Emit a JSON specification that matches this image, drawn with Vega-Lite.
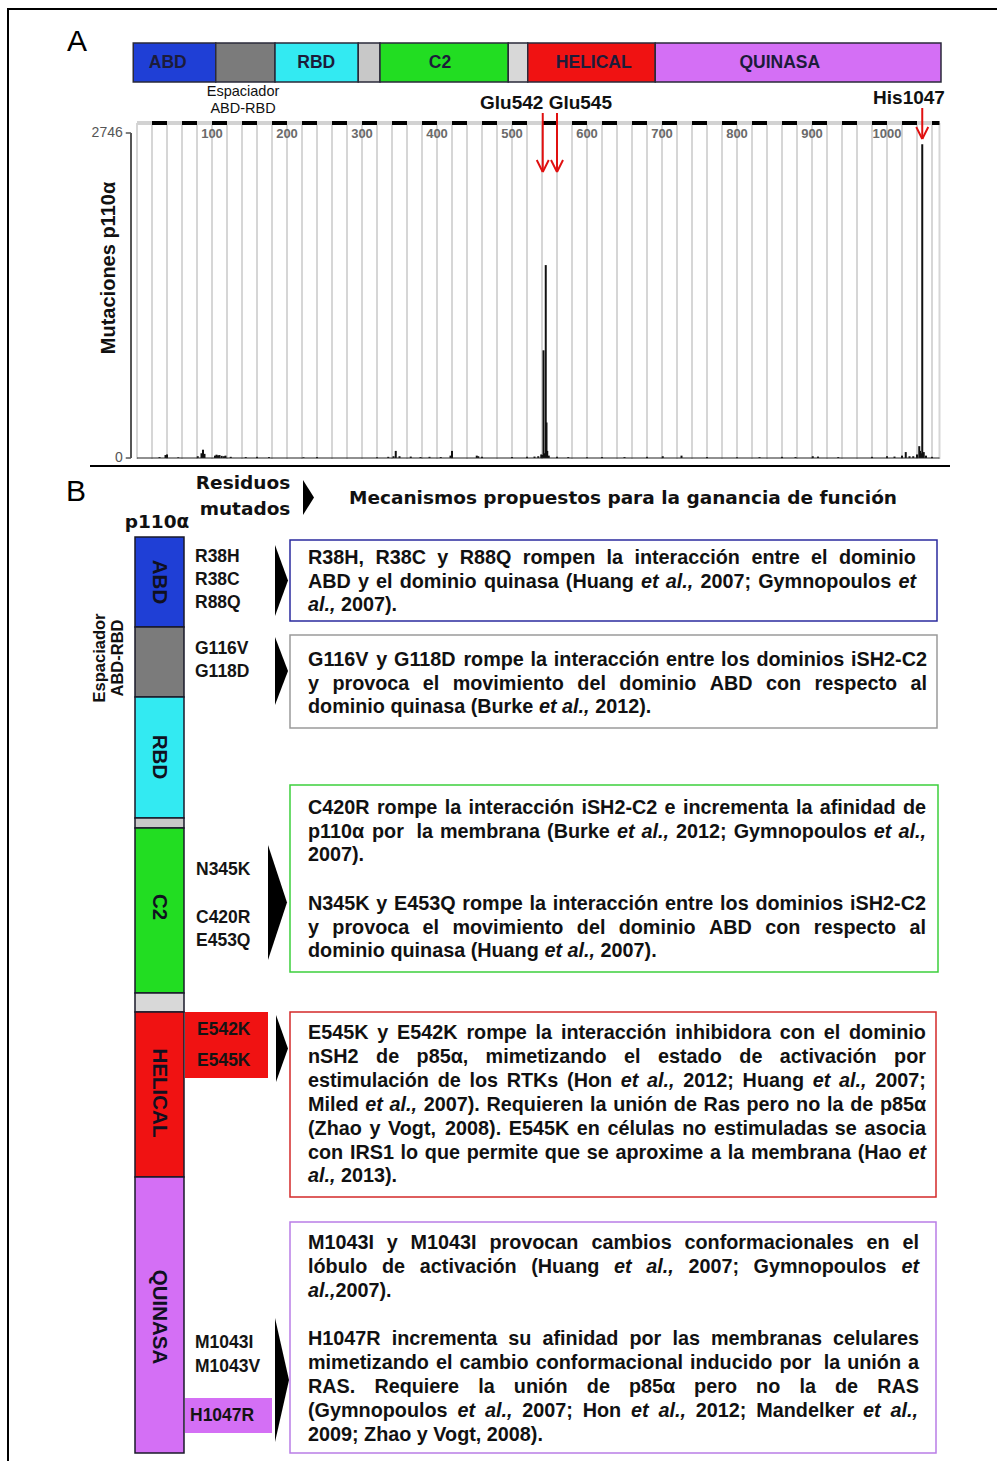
{
  "$schema": "https://vega.github.io/schema/vega-lite/v6.json",
  "width": 997,
  "height": 1461,
  "autosize": {"type": "none"},
  "padding": 0,
  "background": "white",
  "config": {"view": {"stroke": null}},
  "datasets": {
    "domains": [
      {"name": "ABD", "start": -5, "end": 105, "mid": 41, "label": "ABD"},
      {"name": "Espaciador", "start": 105, "end": 184, "mid": 144, "label": ""},
      {"name": "RBD", "start": 184, "end": 295, "mid": 239, "label": "RBD"},
      {"name": "gap1", "start": 295, "end": 324, "mid": 309, "label": ""},
      {"name": "C2", "start": 324, "end": 495, "mid": 404, "label": "C2"},
      {"name": "gap2", "start": 495, "end": 521, "mid": 508, "label": ""},
      {"name": "HELICAL", "start": 521, "end": 691, "mid": 609, "label": "HELICAL"},
      {"name": "QUINASA", "start": 691, "end": 1072, "mid": 857, "label": "QUINASA"}
    ],
    "grid": [
      {"g": 0}, {"g": 20}, {"g": 40}, {"g": 60}, {"g": 80}, {"g": 100}, {"g": 120}, {"g": 140}, {"g": 160}, {"g": 180},
      {"g": 200}, {"g": 220}, {"g": 240}, {"g": 260}, {"g": 280}, {"g": 300}, {"g": 320}, {"g": 340}, {"g": 360}, {"g": 380},
      {"g": 400}, {"g": 420}, {"g": 440}, {"g": 460}, {"g": 480}, {"g": 500}, {"g": 520}, {"g": 540}, {"g": 560}, {"g": 580},
      {"g": 600}, {"g": 620}, {"g": 640}, {"g": 660}, {"g": 680}, {"g": 700}, {"g": 720}, {"g": 740}, {"g": 760}, {"g": 780},
      {"g": 800}, {"g": 820}, {"g": 840}, {"g": 860}, {"g": 880}, {"g": 900}, {"g": 920}, {"g": 940}, {"g": 960}, {"g": 980},
      {"g": 1000}, {"g": 1020}, {"g": 1040}, {"g": 1060}, {"g": 1070}
    ],
    "ticks": [
      {"t": 100}, {"t": 200}, {"t": 300}, {"t": 400}, {"t": 500}, {"t": 600}, {"t": 700}, {"t": 800}, {"t": 900}, {"t": 1000}
    ],
    "arrows": [
      {"x1": 541, "y1": 113, "x2": 541, "y2": 172},
      {"x1": 533, "y1": 160, "x2": 541, "y2": 172},
      {"x1": 549, "y1": 160, "x2": 541, "y2": 172},
      {"x1": 560, "y1": 113, "x2": 560, "y2": 172},
      {"x1": 552, "y1": 160, "x2": 560, "y2": 172},
      {"x1": 568, "y1": 160, "x2": 560, "y2": 172},
      {"x1": 1047, "y1": 108, "x2": 1047, "y2": 139},
      {"x1": 1039, "y1": 127, "x2": 1047, "y2": 139},
      {"x1": 1055, "y1": 127, "x2": 1047, "y2": 139}
    ],
    "mut": [
      {"res": 30, "n": 8}, {"res": 38, "n": 25}, {"res": 40, "n": 30}, {"res": 55, "n": 6}, {"res": 81, "n": 15}, {"res": 86, "n": 40},
      {"res": 88, "n": 70}, {"res": 90, "n": 35}, {"res": 104, "n": 20}, {"res": 106, "n": 28}, {"res": 108, "n": 22},
      {"res": 110, "n": 25}, {"res": 113, "n": 18}, {"res": 116, "n": 15}, {"res": 118, "n": 20}, {"res": 125, "n": 10},
      {"res": 145, "n": 8}, {"res": 160, "n": 10}, {"res": 176, "n": 8}, {"res": 222, "n": 6}, {"res": 240, "n": 8},
      {"res": 320, "n": 6}, {"res": 335, "n": 10}, {"res": 342, "n": 15}, {"res": 345, "n": 60}, {"res": 350, "n": 15},
      {"res": 365, "n": 12}, {"res": 378, "n": 8}, {"res": 390, "n": 10}, {"res": 405, "n": 8}, {"res": 418, "n": 20},
      {"res": 420, "n": 60}, {"res": 453, "n": 20}, {"res": 455, "n": 15}, {"res": 460, "n": 10}, {"res": 500, "n": 8},
      {"res": 520, "n": 10}, {"res": 530, "n": 12}, {"res": 535, "n": 15}, {"res": 539, "n": 30}, {"res": 540, "n": 25},
      {"res": 542, "n": 910}, {"res": 543, "n": 40}, {"res": 545, "n": 1630}, {"res": 546, "n": 300}, {"res": 547, "n": 60},
      {"res": 549, "n": 20}, {"res": 560, "n": 10}, {"res": 575, "n": 8}, {"res": 600, "n": 6}, {"res": 620, "n": 8},
      {"res": 650, "n": 8}, {"res": 680, "n": 10}, {"res": 701, "n": 15}, {"res": 726, "n": 20}, {"res": 760, "n": 8},
      {"res": 800, "n": 6}, {"res": 830, "n": 8}, {"res": 860, "n": 10}, {"res": 878, "n": 8}, {"res": 901, "n": 15},
      {"res": 908, "n": 12}, {"res": 935, "n": 8}, {"res": 980, "n": 10}, {"res": 1000, "n": 15}, {"res": 1010, "n": 12},
      {"res": 1020, "n": 20}, {"res": 1025, "n": 50}, {"res": 1030, "n": 15}, {"res": 1035, "n": 15}, {"res": 1040, "n": 30},
      {"res": 1043, "n": 100}, {"res": 1044, "n": 60}, {"res": 1046, "n": 40}, {"res": 1047, "n": 2650}, {"res": 1048, "n": 30},
      {"res": 1049, "n": 50}, {"res": 1052, "n": 20}, {"res": 1060, "n": 10}
    ],
    "yticks": [{"v": 0, "label": "0"}, {"v": 2746, "label": "2746"}],
    "bseg": [
      {"name": "ABD", "y1": 537, "y2": 627},
      {"name": "Espaciador", "y1": 627, "y2": 697},
      {"name": "RBD", "y1": 697, "y2": 818},
      {"name": "gap1", "y1": 818, "y2": 828},
      {"name": "C2", "y1": 828, "y2": 993},
      {"name": "gap2", "y1": 993, "y2": 1012},
      {"name": "HELICAL", "y1": 1012, "y2": 1177},
      {"name": "QUINASA", "y1": 1177, "y2": 1453}
    ],
    "blabels": [
      {"t": "ABD", "y": 582}, {"t": "RBD", "y": 757}, {"t": "C2", "y": 907}, {"t": "HELICAL", "y": 1093}, {"t": "QUINASA", "y": 1317}
    ],
    "mutboxes": [
      {"name": "HELICAL", "x1": 185, "x2": 268, "y1": 1012, "y2": 1078},
      {"name": "QUINASA", "x1": 185, "x2": 272, "y1": 1398, "y2": 1433}
    ],
    "mutlabels": [
      {"t": "R38H", "x": 195, "y": 557}, {"t": "R38C", "x": 195, "y": 580}, {"t": "R88Q", "x": 195, "y": 603},
      {"t": "G116V", "x": 195, "y": 649}, {"t": "G118D", "x": 195, "y": 672},
      {"t": "N345K", "x": 196, "y": 870}, {"t": "C420R", "x": 196, "y": 918}, {"t": "E453Q", "x": 196, "y": 941},
      {"t": "E542K", "x": 197, "y": 1030}, {"t": "E545K", "x": 197, "y": 1061},
      {"t": "M1043I", "x": 195, "y": 1343}, {"t": "M1043V", "x": 195, "y": 1367}, {"t": "H1047R", "x": 190, "y": 1416}
    ],
    "tri": [
      {"id": "h", "x": 303, "top": 480, "bot": 515}, {"id": "h", "x": 314, "top": 497.5, "bot": 497.5},
      {"id": "a", "x": 275, "top": 545, "bot": 616}, {"id": "a", "x": 288, "top": 580.5, "bot": 580.5},
      {"id": "g", "x": 275, "top": 637, "bot": 705}, {"id": "g", "x": 288, "top": 671, "bot": 671},
      {"id": "c", "x": 268, "top": 845, "bot": 960}, {"id": "c", "x": 287, "top": 902.5, "bot": 902.5},
      {"id": "e", "x": 276, "top": 1015, "bot": 1082}, {"id": "e", "x": 288, "top": 1048.5, "bot": 1048.5},
      {"id": "k", "x": 275, "top": 1318, "bot": 1442}, {"id": "k", "x": 289, "top": 1380, "bot": 1380}
    ],
    "boxes": [
      {"k": "ABD", "x1": 290, "x2": 937, "y1": 540, "y2": 621},
      {"k": "Espaciador", "x1": 290, "x2": 937, "y1": 635, "y2": 728},
      {"k": "C2", "x1": 290, "x2": 938, "y1": 785, "y2": 972},
      {"k": "HELICAL", "x1": 290, "x2": 936, "y1": 1012, "y2": 1197},
      {"k": "QUINASA", "x1": 290, "x2": 936, "y1": 1222, "y2": 1453}
    ],
    "body": [
      {"t": "R38H,", "x": 308, "y": 558}, {"t": "R38C", "x": 375.4, "y": 558}, {"t": "y", "x": 437.3, "y": 558}, {"t": "R88Q", "x": 459.7, "y": 558},
      {"t": "rompen", "x": 522.7, "y": 558}, {"t": "la", "x": 606.6, "y": 558}, {"t": "interacción", "x": 634.4, "y": 558}, {"t": "entre", "x": 751.4, "y": 558},
      {"t": "el", "x": 811.1, "y": 558}, {"t": "dominio", "x": 838.9, "y": 558},
      {"t": "ABD", "x": 308, "y": 582}, {"t": "y", "x": 358.0, "y": 582}, {"t": "el", "x": 376.1, "y": 582}, {"t": "dominio", "x": 399.7, "y": 582},
      {"t": "quinasa", "x": 483.9, "y": 582}, {"t": "(Huang", "x": 565.8, "y": 582}, {"t": "et", "x": 641.1, "y": 582, "i": 1}, {"t": "al.,", "x": 665.8, "y": 582, "i": 1},
      {"t": "2007;", "x": 700.4, "y": 582}, {"t": "Gymnopoulos", "x": 758.2, "y": 582}, {"t": "et", "x": 898.4, "y": 582, "i": 1},
      {"t": "al.,", "x": 308, "y": 605, "i": 1}, {"t": "2007).", "x": 341.0, "y": 605},
      {"t": "G116V", "x": 308, "y": 660}, {"t": "y", "x": 376.3, "y": 660}, {"t": "G118D", "x": 394.0, "y": 660}, {"t": "rompe", "x": 463.4, "y": 660},
      {"t": "la", "x": 530.6, "y": 660}, {"t": "interacción", "x": 553.8, "y": 660}, {"t": "entre", "x": 666.1, "y": 660}, {"t": "los", "x": 721.1, "y": 660},
      {"t": "dominios", "x": 756.4, "y": 660}, {"t": "iSH2-C2", "x": 851.1, "y": 660},
      {"t": "y", "x": 308, "y": 684}, {"t": "provoca", "x": 332.4, "y": 684}, {"t": "el", "x": 422.8, "y": 684}, {"t": "movimiento", "x": 452.7, "y": 684},
      {"t": "del", "x": 577.3, "y": 684}, {"t": "dominio", "x": 619.3, "y": 684}, {"t": "ABD", "x": 709.7, "y": 684}, {"t": "con", "x": 766.0, "y": 684},
      {"t": "respecto", "x": 814.6, "y": 684}, {"t": "al", "x": 910.5, "y": 684},
      {"t": "dominio quinasa (Burke", "x": 308, "y": 707}, {"t": "et al.,", "x": 539.0, "y": 707, "i": 1}, {"t": "2012).", "x": 595.2, "y": 707},
      {"t": "C420R", "x": 308, "y": 808}, {"t": "rompe", "x": 376.9, "y": 808}, {"t": "la", "x": 444.7, "y": 808}, {"t": "interacción", "x": 468.5, "y": 808},
      {"t": "iSH2-C2", "x": 581.4, "y": 808}, {"t": "e", "x": 664.6, "y": 808}, {"t": "incrementa", "x": 682.9, "y": 808}, {"t": "la", "x": 795.9, "y": 808},
      {"t": "afinidad", "x": 819.7, "y": 808}, {"t": "de", "x": 902.9, "y": 808},
      {"t": "p110α", "x": 308, "y": 832}, {"t": "por", "x": 372.0, "y": 832}, {"t": "la", "x": 416.4, "y": 832}, {"t": "membrana", "x": 440.0, "y": 832},
      {"t": "(Burke", "x": 547.1, "y": 832}, {"t": "et", "x": 616.9, "y": 832, "i": 1}, {"t": "al.,", "x": 641.5, "y": 832, "i": 1}, {"t": "2012;", "x": 676.0, "y": 832},
      {"t": "Gymnopoulos", "x": 733.7, "y": 832}, {"t": "et", "x": 873.8, "y": 832, "i": 1}, {"t": "al.,", "x": 898.4, "y": 832, "i": 1},
      {"t": "2007).", "x": 308, "y": 855},
      {"t": "N345K", "x": 308, "y": 904}, {"t": "y", "x": 376.3, "y": 904}, {"t": "E453Q", "x": 394.0, "y": 904}, {"t": "rompe", "x": 462.3, "y": 904},
      {"t": "la", "x": 529.5, "y": 904}, {"t": "interacción", "x": 552.7, "y": 904}, {"t": "entre", "x": 665.0, "y": 904}, {"t": "los", "x": 720.1, "y": 904},
      {"t": "dominios", "x": 755.4, "y": 904}, {"t": "iSH2-C2", "x": 850.1, "y": 904},
      {"t": "y", "x": 308, "y": 928}, {"t": "provoca", "x": 332.3, "y": 928}, {"t": "el", "x": 422.6, "y": 928}, {"t": "movimiento", "x": 452.4, "y": 928},
      {"t": "del", "x": 576.8, "y": 928}, {"t": "dominio", "x": 618.7, "y": 928}, {"t": "ABD", "x": 709.0, "y": 928}, {"t": "con", "x": 765.2, "y": 928},
      {"t": "respecto", "x": 813.7, "y": 928}, {"t": "al", "x": 909.5, "y": 928},
      {"t": "dominio quinasa (Huang", "x": 308, "y": 951}, {"t": "et al.,", "x": 544.5, "y": 951, "i": 1}, {"t": "2007).", "x": 600.6, "y": 951},
      {"t": "E545K", "x": 308, "y": 1033}, {"t": "y", "x": 377.3, "y": 1033}, {"t": "E542K", "x": 397.1, "y": 1033}, {"t": "rompe", "x": 466.4, "y": 1033},
      {"t": "la", "x": 535.6, "y": 1033}, {"t": "interacción", "x": 560.9, "y": 1033}, {"t": "inhibidora", "x": 675.3, "y": 1033}, {"t": "con", "x": 779.8, "y": 1033},
      {"t": "el", "x": 823.7, "y": 1033}, {"t": "dominio", "x": 849.0, "y": 1033},
      {"t": "nSH2", "x": 308, "y": 1057}, {"t": "de", "x": 376.1, "y": 1057}, {"t": "p85α,", "x": 416.6, "y": 1057}, {"t": "mimetizando", "x": 485.6, "y": 1057},
      {"t": "el", "x": 624.0, "y": 1057}, {"t": "estado", "x": 658.0, "y": 1057}, {"t": "de", "x": 739.3, "y": 1057}, {"t": "activación", "x": 779.8, "y": 1057},
      {"t": "por", "x": 894.1, "y": 1057},
      {"t": "estimulación", "x": 308, "y": 1081}, {"t": "de", "x": 437.7, "y": 1081}, {"t": "los", "x": 469.5, "y": 1081}, {"t": "RTKs", "x": 506.7, "y": 1081},
      {"t": "(Hon", "x": 567.1, "y": 1081}, {"t": "et", "x": 620.8, "y": 1081, "i": 1}, {"t": "al.,", "x": 647.1, "y": 1081, "i": 1}, {"t": "2012;", "x": 683.3, "y": 1081},
      {"t": "Huang", "x": 742.6, "y": 1081}, {"t": "et", "x": 812.8, "y": 1081, "i": 1}, {"t": "al.,", "x": 839.1, "y": 1081, "i": 1}, {"t": "2007;", "x": 875.3, "y": 1081},
      {"t": "Miled", "x": 308, "y": 1105}, {"t": "et", "x": 365.3, "y": 1105, "i": 1}, {"t": "al.,", "x": 389.6, "y": 1105, "i": 1}, {"t": "2007).", "x": 423.7, "y": 1105},
      {"t": "Requieren", "x": 486.5, "y": 1105}, {"t": "la", "x": 590.0, "y": 1105}, {"t": "unión", "x": 613.2, "y": 1105}, {"t": "de", "x": 673.8, "y": 1105},
      {"t": "Ras", "x": 703.6, "y": 1105}, {"t": "pero", "x": 746.5, "y": 1105}, {"t": "no", "x": 796.1, "y": 1105}, {"t": "la", "x": 827.0, "y": 1105},
      {"t": "de", "x": 850.2, "y": 1105}, {"t": "p85α", "x": 880.0, "y": 1105},
      {"t": "(Zhao", "x": 308, "y": 1129}, {"t": "y", "x": 369.5, "y": 1129}, {"t": "Vogt,", "x": 388.0, "y": 1129}, {"t": "2008).", "x": 445.1, "y": 1129},
      {"t": "E545K", "x": 508.7, "y": 1129}, {"t": "en", "x": 576.8, "y": 1129}, {"t": "células", "x": 607.5, "y": 1129}, {"t": "no", "x": 682.2, "y": 1129},
      {"t": "estimuladas", "x": 713.9, "y": 1129}, {"t": "se", "x": 834.8, "y": 1129}, {"t": "asocia", "x": 864.4, "y": 1129},
      {"t": "con", "x": 308, "y": 1153}, {"t": "IRS1", "x": 349.9, "y": 1153}, {"t": "lo", "x": 400.5, "y": 1153}, {"t": "que", "x": 424.8, "y": 1153},
      {"t": "permite", "x": 466.7, "y": 1153}, {"t": "que", "x": 544.8, "y": 1153}, {"t": "se", "x": 586.7, "y": 1153}, {"t": "aproxime", "x": 615.4, "y": 1153},
      {"t": "a", "x": 710.1, "y": 1153}, {"t": "la", "x": 727.7, "y": 1153}, {"t": "membrana", "x": 750.9, "y": 1153}, {"t": "(Hao", "x": 857.7, "y": 1153},
      {"t": "et", "x": 908.4, "y": 1153, "i": 1},
      {"t": "al.,", "x": 308, "y": 1176, "i": 1}, {"t": "2013).", "x": 341.0, "y": 1176},
      {"t": "M1043I", "x": 308, "y": 1243}, {"t": "y", "x": 386.8, "y": 1243}, {"t": "M1043I", "x": 410.6, "y": 1243}, {"t": "provocan", "x": 489.4, "y": 1243},
      {"t": "cambios", "x": 591.4, "y": 1243}, {"t": "conformacionales", "x": 684.5, "y": 1243}, {"t": "en", "x": 866.6, "y": 1243}, {"t": "el", "x": 902.5, "y": 1243},
      {"t": "lóbulo", "x": 308, "y": 1267}, {"t": "de", "x": 382.0, "y": 1267}, {"t": "activación", "x": 419.8, "y": 1267}, {"t": "(Huang", "x": 531.2, "y": 1267},
      {"t": "et", "x": 614.0, "y": 1267, "i": 1}, {"t": "al.,", "x": 646.2, "y": 1267, "i": 1}, {"t": "2007;", "x": 688.4, "y": 1267}, {"t": "Gymnopoulos", "x": 753.6, "y": 1267},
      {"t": "et", "x": 901.4, "y": 1267, "i": 1},
      {"t": "al.,", "x": 308, "y": 1291, "i": 1}, {"t": "2007).", "x": 335.5, "y": 1291},
      {"t": "H1047R", "x": 308, "y": 1339}, {"t": "incrementa", "x": 391.7, "y": 1339}, {"t": "su", "x": 508.3, "y": 1339}, {"t": "afinidad", "x": 542.5, "y": 1339},
      {"t": "por", "x": 629.4, "y": 1339}, {"t": "las", "x": 672.4, "y": 1339}, {"t": "membranas", "x": 710.9, "y": 1339}, {"t": "celulares", "x": 833.1, "y": 1339},
      {"t": "mimetizando", "x": 308, "y": 1363}, {"t": "el", "x": 436.0, "y": 1363}, {"t": "cambio", "x": 459.4, "y": 1363}, {"t": "conformacional", "x": 535.7, "y": 1363},
      {"t": "inducido", "x": 689.9, "y": 1363}, {"t": "por", "x": 779.4, "y": 1363}, {"t": "la", "x": 823.7, "y": 1363}, {"t": "unión", "x": 847.2, "y": 1363},
      {"t": "a", "x": 908.0, "y": 1363},
      {"t": "RAS.", "x": 308, "y": 1387}, {"t": "Requiere", "x": 374.4, "y": 1387}, {"t": "la", "x": 478.2, "y": 1387}, {"t": "unión", "x": 513.8, "y": 1387},
      {"t": "de", "x": 586.8, "y": 1387}, {"t": "p85α", "x": 629.0, "y": 1387}, {"t": "pero", "x": 694.1, "y": 1387}, {"t": "no", "x": 756.1, "y": 1387},
      {"t": "la", "x": 799.4, "y": 1387}, {"t": "de", "x": 835.0, "y": 1387}, {"t": "RAS", "x": 877.2, "y": 1387},
      {"t": "(Gymnopoulos", "x": 308, "y": 1411}, {"t": "et", "x": 457.5, "y": 1411, "i": 1}, {"t": "al.,", "x": 485.0, "y": 1411, "i": 1}, {"t": "2007;", "x": 522.3, "y": 1411},
      {"t": "Hon", "x": 582.7, "y": 1411}, {"t": "et", "x": 631.1, "y": 1411, "i": 1}, {"t": "al.,", "x": 658.5, "y": 1411, "i": 1}, {"t": "2012;", "x": 695.8, "y": 1411},
      {"t": "Mandelker", "x": 756.3, "y": 1411}, {"t": "et", "x": 863.0, "y": 1411, "i": 1}, {"t": "al.,", "x": 890.4, "y": 1411, "i": 1},
      {"t": "2009; Zhao y Vogt, 2008).", "x": 308, "y": 1435}
    ],
    "heads": [
      {"t": "Residuos", "x": 243, "y": 483},
      {"t": "mutados", "x": 245, "y": 509},
      {"t": "p110α", "x": 157, "y": 522},
      {"t": "Mecanismos propuestos para la ganancia de función", "x": 623, "y": 498}
    ],
    "panels": [{"t": "A", "x": 77, "y": 42}, {"t": "B", "x": 76, "y": 492}],
    "smalltop": [{"t": "Espaciador", "x": 243, "y": 92}, {"t": "ABD-RBD", "x": 243, "y": 109}],
    "residues": [{"t": "Glu542 Glu545", "x": 546, "y": 103}, {"t": "His1047", "x": 909, "y": 98}],
    "vtitle": [{"t": "Mutaciones p110α", "x": 109, "y": 268}],
    "vspacer": [{"t": "Espaciador", "x": 100, "y": 658}, {"t": "ABD-RBD", "x": 118, "y": 658}]
  },
  "resolve": {"scale": {"x": "independent", "y": "independent"}},
  "layer": [
    {
      "layer": [
        {
          "data": {"name": "grid"},
          "mark": {"type": "rule", "color": "#d6d6d6", "strokeWidth": 2},
          "encoding": {
            "x": {"field": "g", "type": "quantitative", "scale": {"domain": [-182.667, 1146.667], "nice": false, "zero": false}, "axis": null},
            "y": {"datum": 123, "type": "quantitative", "scale": {"domain": [0, 1461], "nice": false, "zero": false, "reverse": true}, "axis": null},
            "y2": {"datum": 459}
          }
        },
        {
          "data": {"values": [{}]},
          "mark": {"type": "rule", "color": "#d2d2d2", "strokeWidth": 4},
          "encoding": {
            "x": {"datum": 0, "type": "quantitative", "scale": {"domain": [-182.667, 1146.667], "nice": false, "zero": false}, "axis": null},
            "x2": {"datum": 1070},
            "y": {"datum": 123, "type": "quantitative", "scale": {"domain": [0, 1461], "nice": false, "zero": false, "reverse": true}, "axis": null}
          }
        },
        {
          "data": {"values": [{}]},
          "mark": {"type": "rule", "color": "#000000", "strokeWidth": 4, "strokeDash": [15, 15], "strokeDashOffset": 15},
          "encoding": {
            "x": {"datum": 0, "type": "quantitative", "scale": {"domain": [-182.667, 1146.667], "nice": false, "zero": false}, "axis": null},
            "x2": {"datum": 1070},
            "y": {"datum": 123, "type": "quantitative", "scale": {"domain": [0, 1461], "nice": false, "zero": false, "reverse": true}, "axis": null}
          }
        },
        {
          "data": {"name": "ticks"},
          "mark": {"type": "text", "font": "Liberation Sans", "fontSize": 13, "fontWeight": "bold", "color": "#6a6a6a", "baseline": "middle"},
          "encoding": {
            "x": {"field": "t", "type": "quantitative", "scale": {"domain": [-182.667, 1146.667], "nice": false, "zero": false}, "axis": null},
            "y": {"datum": 134, "type": "quantitative", "scale": {"domain": [0, 1461], "nice": false, "zero": false, "reverse": true}, "axis": null},
            "text": {"field": "t", "type": "quantitative"}
          }
        },
        {
          "data": {"name": "domains"},
          "mark": {"type": "rect", "stroke": "#2a2a3a", "strokeWidth": 1.5},
          "encoding": {
            "x": {"field": "start", "type": "quantitative", "scale": {"domain": [-182.667, 1146.667], "nice": false, "zero": false}, "axis": null},
            "x2": {"field": "end"},
            "y": {"datum": 43, "type": "quantitative", "scale": {"domain": [0, 1461], "nice": false, "zero": false, "reverse": true}, "axis": null},
            "y2": {"datum": 82},
            "fill": {"field": "name", "type": "nominal", "legend": null, "scale": {"domain": ["ABD", "Espaciador", "RBD", "gap1", "C2", "gap2", "HELICAL", "QUINASA"], "range": ["#1f3fd6", "#7b7b7b", "#33eaf2", "#c8c8c8", "#22dd22", "#d8d8d8", "#f01212", "#d46ff5"]}}
          }
        },
        {
          "data": {"name": "domains"},
          "mark": {"type": "text", "font": "Liberation Sans", "fontSize": 17.5, "fontWeight": "bold", "color": "#1c1c3a", "baseline": "middle"},
          "encoding": {
            "x": {"field": "mid", "type": "quantitative", "scale": {"domain": [-182.667, 1146.667], "nice": false, "zero": false}, "axis": null},
            "y": {"datum": 63, "type": "quantitative", "scale": {"domain": [0, 1461], "nice": false, "zero": false, "reverse": true}, "axis": null},
            "text": {"field": "label", "type": "nominal"}
          }
        },
        {
          "data": {"name": "arrows"},
          "mark": {"type": "rule", "color": "#e01010", "strokeWidth": 2},
          "encoding": {
            "x": {"field": "x1", "type": "quantitative", "scale": {"domain": [-182.667, 1146.667], "nice": false, "zero": false}, "axis": null},
            "x2": {"field": "x2"},
            "y": {"field": "y1", "type": "quantitative", "scale": {"domain": [0, 1461], "nice": false, "zero": false, "reverse": true}, "axis": null},
            "y2": {"field": "y2"}
          }
        }
      ]
    },
    {
      "layer": [
        {
          "data": {"name": "mut"},
          "mark": {"type": "rule", "color": "#111111", "strokeWidth": 2},
          "encoding": {
            "x": {"field": "res", "type": "quantitative", "scale": {"domain": [-182.667, 1146.667], "nice": false, "zero": false}, "axis": null},
            "y": {"field": "n", "type": "quantitative", "scale": {"domain": [-8474.6, 3869.8], "nice": false, "zero": false}, "axis": null},
            "y2": {"datum": 0}
          }
        },
        {
          "data": {"values": [{}]},
          "mark": {"type": "rule", "color": "#222222", "strokeWidth": 1.2},
          "encoding": {
            "x": {"datum": 0, "type": "quantitative", "scale": {"domain": [-182.667, 1146.667], "nice": false, "zero": false}, "axis": null},
            "x2": {"datum": 1070},
            "y": {"datum": 0, "type": "quantitative", "scale": {"domain": [-8474.6, 3869.8], "nice": false, "zero": false}, "axis": null}
          }
        },
        {
          "data": {"values": [{}]},
          "mark": {"type": "rule", "color": "#555555", "strokeWidth": 2},
          "encoding": {
            "x": {"datum": -8, "type": "quantitative", "scale": {"domain": [-182.667, 1146.667], "nice": false, "zero": false}, "axis": null},
            "y": {"datum": 0, "type": "quantitative", "scale": {"domain": [-8474.6, 3869.8], "nice": false, "zero": false}, "axis": null},
            "y2": {"datum": 2746}
          }
        },
        {
          "data": {"name": "yticks"},
          "mark": {"type": "rule", "color": "#555555", "strokeWidth": 1.5},
          "encoding": {
            "x": {"datum": -15, "type": "quantitative", "scale": {"domain": [-182.667, 1146.667], "nice": false, "zero": false}, "axis": null},
            "x2": {"datum": -8},
            "y": {"field": "v", "type": "quantitative", "scale": {"domain": [-8474.6, 3869.8], "nice": false, "zero": false}, "axis": null}
          }
        },
        {
          "data": {"name": "yticks"},
          "mark": {"type": "text", "font": "Liberation Sans", "fontSize": 14, "color": "#555555", "align": "right", "baseline": "middle", "dx": -3},
          "encoding": {
            "x": {"datum": -15, "type": "quantitative", "scale": {"domain": [-182.667, 1146.667], "nice": false, "zero": false}, "axis": null},
            "y": {"field": "v", "type": "quantitative", "scale": {"domain": [-8474.6, 3869.8], "nice": false, "zero": false}, "axis": null},
            "text": {"field": "label", "type": "nominal"}
          }
        }
      ]
    },
    {
      "layer": [
        {
          "data": {"values": [{}]},
          "mark": {"type": "rect", "fillOpacity": 0, "stroke": "#000000", "strokeWidth": 2},
          "encoding": {
            "x": {"datum": 8, "type": "quantitative", "scale": {"domain": [0, 997], "nice": false, "zero": false}, "axis": null},
            "x2": {"datum": 1010},
            "y": {"datum": 9, "type": "quantitative", "scale": {"domain": [0, 1461], "nice": false, "zero": false, "reverse": true}, "axis": null},
            "y2": {"datum": 1475}
          }
        },
        {
          "data": {"values": [{}]},
          "mark": {"type": "rule", "color": "#000000", "strokeWidth": 2},
          "encoding": {
            "x": {"datum": 90, "type": "quantitative", "scale": {"domain": [0, 997], "nice": false, "zero": false}, "axis": null},
            "x2": {"datum": 950},
            "y": {"datum": 466, "type": "quantitative", "scale": {"domain": [0, 1461], "nice": false, "zero": false, "reverse": true}, "axis": null}
          }
        },
        {
          "data": {"name": "bseg"},
          "mark": {"type": "rect", "stroke": "#1a1a2a", "strokeWidth": 1.5},
          "encoding": {
            "x": {"datum": 135, "type": "quantitative", "scale": {"domain": [0, 997], "nice": false, "zero": false}, "axis": null},
            "x2": {"datum": 184},
            "y": {"field": "y1", "type": "quantitative", "scale": {"domain": [0, 1461], "nice": false, "zero": false, "reverse": true}, "axis": null},
            "y2": {"field": "y2"},
            "fill": {"field": "name", "type": "nominal", "legend": null, "scale": {"domain": ["ABD", "Espaciador", "RBD", "gap1", "C2", "gap2", "HELICAL", "QUINASA"], "range": ["#1f3fd6", "#7b7b7b", "#33eaf2", "#c8c8c8", "#22dd22", "#d8d8d8", "#f01212", "#d46ff5"]}}
          }
        },
        {
          "data": {"name": "blabels"},
          "mark": {"type": "text", "font": "Liberation Sans", "fontSize": 20.5, "fontWeight": "bold", "color": "#101020", "angle": 90, "baseline": "middle"},
          "encoding": {
            "x": {"datum": 159, "type": "quantitative", "scale": {"domain": [0, 997], "nice": false, "zero": false}, "axis": null},
            "y": {"field": "y", "type": "quantitative", "scale": {"domain": [0, 1461], "nice": false, "zero": false, "reverse": true}, "axis": null},
            "text": {"field": "t", "type": "nominal"}
          }
        },
        {
          "data": {"name": "mutboxes"},
          "mark": {"type": "rect"},
          "encoding": {
            "x": {"field": "x1", "type": "quantitative", "scale": {"domain": [0, 997], "nice": false, "zero": false}, "axis": null},
            "x2": {"field": "x2"},
            "y": {"field": "y1", "type": "quantitative", "scale": {"domain": [0, 1461], "nice": false, "zero": false, "reverse": true}, "axis": null},
            "y2": {"field": "y2"},
            "fill": {"field": "name", "type": "nominal", "legend": null, "scale": {"domain": ["ABD", "Espaciador", "RBD", "gap1", "C2", "gap2", "HELICAL", "QUINASA"], "range": ["#1f3fd6", "#7b7b7b", "#33eaf2", "#c8c8c8", "#22dd22", "#d8d8d8", "#f01212", "#d46ff5"]}}
          }
        },
        {
          "data": {"name": "boxes"},
          "mark": {"type": "rect", "fill": "white", "strokeWidth": 1.5},
          "encoding": {
            "x": {"field": "x1", "type": "quantitative", "scale": {"domain": [0, 997], "nice": false, "zero": false}, "axis": null},
            "x2": {"field": "x2"},
            "y": {"field": "y1", "type": "quantitative", "scale": {"domain": [0, 1461], "nice": false, "zero": false, "reverse": true}, "axis": null},
            "y2": {"field": "y2"},
            "stroke": {"field": "k", "type": "nominal", "legend": null, "scale": {"domain": ["ABD", "Espaciador", "C2", "HELICAL", "QUINASA"], "range": ["#2b2b9e", "#9a9a9a", "#3ccf3c", "#d42a2a", "#b97ee6"]}}
          }
        },
        {
          "data": {"name": "tri"},
          "mark": {"type": "area", "color": "#000000", "opacity": 1},
          "encoding": {
            "x": {"field": "x", "type": "quantitative", "scale": {"domain": [0, 997], "nice": false, "zero": false}, "axis": null},
            "y": {"field": "top", "type": "quantitative", "scale": {"domain": [0, 1461], "nice": false, "zero": false, "reverse": true}, "axis": null},
            "y2": {"field": "bot"},
            "detail": {"field": "id", "type": "nominal"}
          }
        },
        {
          "data": {"name": "body"},
          "transform": [{"filter": "datum.i !== 1"}],
          "mark": {"type": "text", "font": "Liberation Sans", "fontSize": 19.8, "fontWeight": "bold", "color": "#111111", "align": "left", "baseline": "middle"},
          "encoding": {
            "x": {"field": "x", "type": "quantitative", "scale": {"domain": [0, 997], "nice": false, "zero": false}, "axis": null},
            "y": {"field": "y", "type": "quantitative", "scale": {"domain": [0, 1461], "nice": false, "zero": false, "reverse": true}, "axis": null},
            "text": {"field": "t", "type": "nominal"}
          }
        },
        {
          "data": {"name": "body"},
          "transform": [{"filter": "datum.i === 1"}],
          "mark": {"type": "text", "font": "Liberation Sans", "fontSize": 19.8, "fontWeight": "bold", "fontStyle": "italic", "color": "#111111", "align": "left", "baseline": "middle"},
          "encoding": {
            "x": {"field": "x", "type": "quantitative", "scale": {"domain": [0, 997], "nice": false, "zero": false}, "axis": null},
            "y": {"field": "y", "type": "quantitative", "scale": {"domain": [0, 1461], "nice": false, "zero": false, "reverse": true}, "axis": null},
            "text": {"field": "t", "type": "nominal"}
          }
        },
        {
          "data": {"name": "mutlabels"},
          "mark": {"type": "text", "font": "Liberation Sans", "fontSize": 17.5, "fontWeight": "bold", "color": "#141414", "align": "left", "baseline": "middle"},
          "encoding": {
            "x": {"field": "x", "type": "quantitative", "scale": {"domain": [0, 997], "nice": false, "zero": false}, "axis": null},
            "y": {"field": "y", "type": "quantitative", "scale": {"domain": [0, 1461], "nice": false, "zero": false, "reverse": true}, "axis": null},
            "text": {"field": "t", "type": "nominal"}
          }
        },
        {
          "data": {"name": "heads"},
          "mark": {"type": "text", "font": "DejaVu Sans", "fontSize": 18.5, "fontWeight": "bold", "color": "#111111", "baseline": "middle"},
          "encoding": {
            "x": {"field": "x", "type": "quantitative", "scale": {"domain": [0, 997], "nice": false, "zero": false}, "axis": null},
            "y": {"field": "y", "type": "quantitative", "scale": {"domain": [0, 1461], "nice": false, "zero": false, "reverse": true}, "axis": null},
            "text": {"field": "t", "type": "nominal"}
          }
        },
        {
          "data": {"name": "panels"},
          "mark": {"type": "text", "font": "Liberation Sans", "fontSize": 30, "color": "#000000", "baseline": "middle"},
          "encoding": {
            "x": {"field": "x", "type": "quantitative", "scale": {"domain": [0, 997], "nice": false, "zero": false}, "axis": null},
            "y": {"field": "y", "type": "quantitative", "scale": {"domain": [0, 1461], "nice": false, "zero": false, "reverse": true}, "axis": null},
            "text": {"field": "t", "type": "nominal"}
          }
        },
        {
          "data": {"name": "smalltop"},
          "mark": {"type": "text", "font": "Liberation Sans", "fontSize": 14.5, "color": "#111111", "baseline": "middle"},
          "encoding": {
            "x": {"field": "x", "type": "quantitative", "scale": {"domain": [0, 997], "nice": false, "zero": false}, "axis": null},
            "y": {"field": "y", "type": "quantitative", "scale": {"domain": [0, 1461], "nice": false, "zero": false, "reverse": true}, "axis": null},
            "text": {"field": "t", "type": "nominal"}
          }
        },
        {
          "data": {"name": "residues"},
          "mark": {"type": "text", "font": "Liberation Sans", "fontSize": 19, "fontWeight": "bold", "color": "#111111", "baseline": "middle"},
          "encoding": {
            "x": {"field": "x", "type": "quantitative", "scale": {"domain": [0, 997], "nice": false, "zero": false}, "axis": null},
            "y": {"field": "y", "type": "quantitative", "scale": {"domain": [0, 1461], "nice": false, "zero": false, "reverse": true}, "axis": null},
            "text": {"field": "t", "type": "nominal"}
          }
        },
        {
          "data": {"name": "vtitle"},
          "mark": {"type": "text", "font": "Liberation Sans", "fontSize": 20, "fontWeight": "bold", "color": "#111111", "angle": -90, "baseline": "middle"},
          "encoding": {
            "x": {"field": "x", "type": "quantitative", "scale": {"domain": [0, 997], "nice": false, "zero": false}, "axis": null},
            "y": {"field": "y", "type": "quantitative", "scale": {"domain": [0, 1461], "nice": false, "zero": false, "reverse": true}, "axis": null},
            "text": {"field": "t", "type": "nominal"}
          }
        },
        {
          "data": {"name": "vspacer"},
          "mark": {"type": "text", "font": "Liberation Sans", "fontSize": 16.5, "fontWeight": "bold", "color": "#111111", "angle": -90, "baseline": "middle"},
          "encoding": {
            "x": {"field": "x", "type": "quantitative", "scale": {"domain": [0, 997], "nice": false, "zero": false}, "axis": null},
            "y": {"field": "y", "type": "quantitative", "scale": {"domain": [0, 1461], "nice": false, "zero": false, "reverse": true}, "axis": null},
            "text": {"field": "t", "type": "nominal"}
          }
        }
      ]
    }
  ]
}
